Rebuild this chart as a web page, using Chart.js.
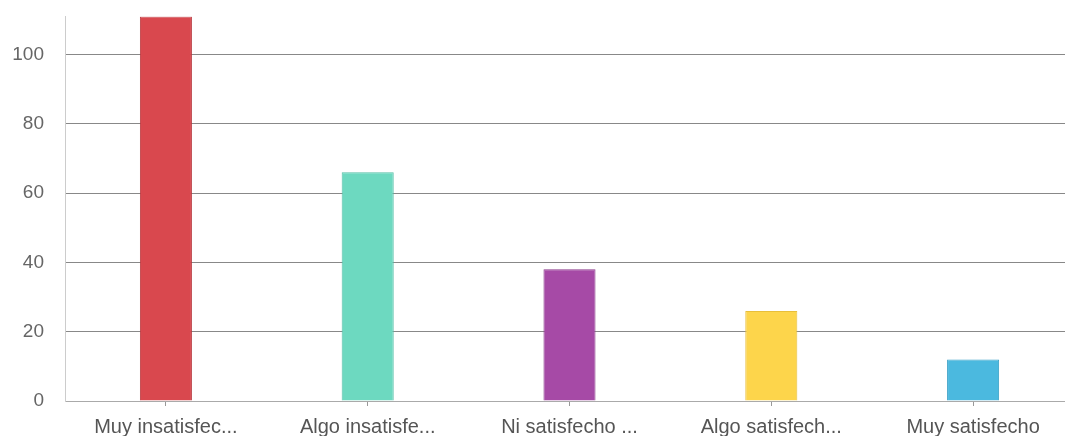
<!DOCTYPE html>
<html>
<head>
<meta charset="utf-8">
<script src="https://cdn.jsdelivr.net/npm/chart.js@4/dist/chart.umd.min.js"></script>
<style>
html,body{margin:0;padding:0;background:#fff;overflow:hidden;}
#wrap{width:1065px;height:436px;position:relative;overflow:hidden;}
#c{position:absolute;left:0;top:-16px;}
</style>
</head>
<body>
<div id="wrap"><canvas id="c" width="1074" height="464"></canvas></div>
<script>
const categories = ["Muy insatisfec...", "Algo insatisfe...", "Ni satisfecho ...", "Algo satisfech...", "Muy satisfecho"];
const values = [111, 66, 38, 26, 12];
const barColors = ["#d9484e", "#6dd9c0", "#a64aa6", "#fdd54b", "#4bb9df"];
const borderColors = ["#b93a40", "#55bfa7", "#8a3a8a", "#e8bf3a", "#3aa0c6"];

new Chart(document.getElementById('c'), {
  type: 'bar',
  data: {
    labels: categories,
    datasets: [{
      data: values,
      backgroundColor: barColors,
      borderColor: borderColors,
      borderWidth: 1,
      barPercentage: 0.258,
      categoryPercentage: 1.0
    }]
  },
  options: {
    responsive: false,
    animation: false,
    layout: { padding: { top: -4, right: 0, left: 10, bottom: 0 } },
    plugins: { legend: { display: false }, tooltip: { enabled: false } },
    scales: {
      x: {
        grid: { display: true, offset: false, drawOnChartArea: false, drawTicks: true, tickLength: 5, color: '#999' },
        border: { display: true, color: '#aaa' },
        ticks: { color: '#555', font: { family: 'Liberation Sans, Arial, sans-serif', size: 20, lineHeight: 1.0 }, padding: 11, maxRotation: 0, autoSkip: false }
      },
      y: {
        min: 0,
        max: 111,
        afterFit: (s) => { s.width = 55; },
        grid: { color: '#888', drawTicks: false },
        border: { display: true, color: '#ccc' },
        ticks: { stepSize: 20, includeBounds: false, color: '#666', font: { family: 'Liberation Sans, Arial, sans-serif', size: 19 }, padding: 21 }
      }
    }
  }
});
</script>
</body>
</html>
